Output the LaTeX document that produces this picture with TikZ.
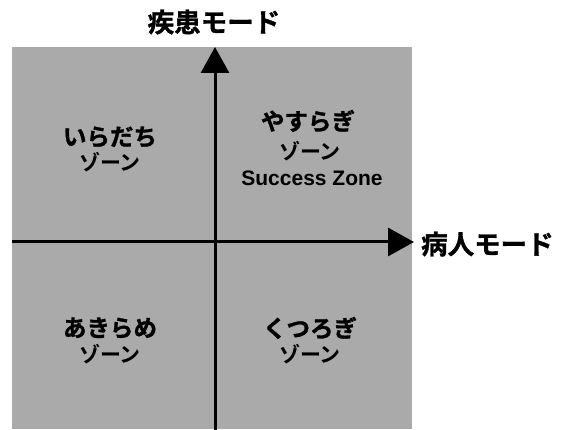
\documentclass[tikz,border=0pt]{standalone}
\usepackage{fontspec}
\setmainfont{Liberation Sans}
\newfontfamily\jp{Noto Sans CJK JP}[BoldFont=* Bold]
\newfontfamily\jpheavy{Noto Sans CJK JP}[BoldFont=* Bold, BoldFeatures={FakeBold=1.2}]
\usetikzlibrary{arrows.meta}
\definecolor{panelgray}{RGB}{170,170,170}
\begin{document}
\begin{tikzpicture}[x=1pt,y=-1pt,
  axisline/.style={line width=3pt,-{Triangle[width=28pt,length=26pt]}},
  axislabel/.style={font=\jpheavy\bfseries\fontsize{26.5}{28}\selectfont,inner sep=0pt},
  zonetitle/.style={font=\jpheavy\bfseries\fontsize{23.5}{25}\selectfont,inner sep=0pt},
  zonesub/.style={font=\jp\bfseries\fontsize{21}{23}\selectfont,inner sep=0pt},
  zoneen/.style={font=\bfseries\fontsize{21}{23}\selectfont,inner sep=0pt}]
\useasboundingbox (0,0) rectangle (568,430);
\fill[panelgray] (12,47) rectangle (412,429);
\coordinate (vbot) at (215,430);
\coordinate (vtop) at (215,47);
\coordinate (hleft) at (12,242);
\coordinate (hright) at (414,242);
\draw[axisline] (vbot) -- (vtop);
\draw[axisline] (hleft) -- (hright);
\node[axislabel] (ylab) at (214,22) {疾患モード};
\node[axislabel,anchor=west] (xlab) at (421,244) {病人モード};
\node[zonetitle] (tl1) at (110,137) {いらだち};
\node[zonesub] (tl2) at (110,162) {ゾーン};
\node[zonetitle] (tr1) at (308,121) {やすらぎ};
\node[zonesub] (tr2) at (310,151) {ゾーン};
\node[zoneen] (tr3) at (312,178) {Success Zone};
\node[zonetitle] (bl1) at (110,328) {あきらめ};
\node[zonesub] (bl2) at (110,354) {ゾーン};
\node[zonetitle] (br1) at (310,328) {くつろぎ};
\node[zonesub] (br2) at (310,354) {ゾーン};
\end{tikzpicture}
\end{document}
